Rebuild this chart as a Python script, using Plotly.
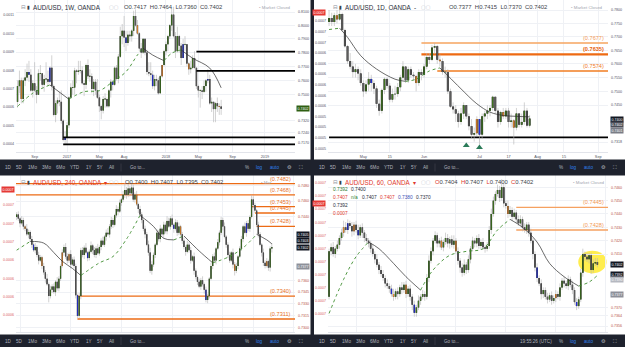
import math
import plotly.graph_objects as go

FONT = "Liberation Sans, Arial, sans-serif"
ICON = "DejaVu Sans, sans-serif"
FIG_W, FIG_H = 625, 347

# ======================= DATA (prices in pips, x 1e-4) =======================
# ---- AUD/USD 1W (top-left)
w_first_open = 7450
w_close = [7560,7600,7470,7600,7620,7660,7640,7530,7580,7530,
           7500,7650,7650,7570,7610,7610,7590,7690,7560,7360,
           7440,7460,7450,7320,7190,7210,7290,7480,7550,7550,
           7670,7660,7670,7670,7580,7570,7710,7630,7630,7540,
           7590,7530,7480,7420,7390,7470,7470,7420,7530,7590,
           7570,7690,7610,7770,7920,7960,7910,7870,7930,7920,
           7960,8070,8000,7940,7830,7800,7900,7800,7660,7650,
           7640,7560,7610,7600,7510,7630,7710,7810,7860,7920,
           8000,8080,7920,7810,7920,7850,7760,7860,7860,7720,
           7680,7690,7760,7690,7560,7530,7530,7520,7560,7600,
           7610,7440,7450,7400,7440,7420,7417,7402]
w_high = [7600,7670,7620,7620,7680,7720,7740,7680,7600,7730,
          7560,7680,7710,7650,7640,7730,7670,7700,7780,7570,
          7460,7480,7520,7530,7330,7250,7310,7490,7580,7600,
          7690,7680,7740,7740,7700,7600,7720,7750,7680,7650,
          7610,7610,7610,7500,7430,7490,7510,7480,7540,7610,
          7600,7700,7710,7790,7990,8010,8070,7960,7960,7960,
          7970,8110,8120,8040,7950,7870,7900,7900,7820,7730,
          7730,7670,7640,7640,7620,7640,7710,7820,7880,7930,
          8010,8130,8140,7950,7990,7930,7870,7900,7920,7840,
          7730,7740,7780,7810,7690,7570,7540,7560,7600,7610,
          7680,7640,7480,7450,7450,7480,7440,7464]
w_low = [7410,7510,7440,7440,7560,7600,7590,7520,7480,7520,
         7440,7500,7600,7540,7520,7580,7560,7580,7530,7350,
         7310,7370,7420,7300,7180,7160,7160,7270,7480,7500,
         7500,7580,7640,7650,7570,7490,7540,7610,7590,7510,
         7490,7500,7470,7380,7330,7370,7410,7410,7410,7480,
         7530,7560,7600,7580,7760,7860,7840,7810,7850,7880,
         7880,7920,7990,7930,7810,7760,7790,7780,7640,7630,
         7600,7540,7530,7560,7500,7510,7620,7700,7780,7810,
         7900,7960,7910,7760,7800,7800,7710,7770,7810,7700,
         7640,7650,7680,7680,7540,7480,7410,7470,7510,7520,
         7580,7430,7380,7310,7310,7380,7360,7360]
w_tick_idx = [9, 26, 43, 56, 78, 95, 113, 130]
w_tick_txt = ["Sep", "2017", "May", "Aug", "2018", "May", "Sep", "2019"]
w_price_ticks = [0.8100, 0.8000, 0.7900, 0.7800, 0.7700, 0.7600, 0.7500, 0.7320, 0.7240, 0.7170]
w_ma_idx = [0, 8, 17, 27, 35, 43, 50, 57, 63, 66, 71, 77, 81, 86, 92, 101, 107]
w_ma_val = [0.7418, 0.7510, 0.7568, 0.7468, 0.7521, 0.7528, 0.7591, 0.7662, 0.7782, 0.7831,
            0.7782, 0.7741, 0.7795, 0.7819, 0.7759, 0.7688, 0.7548]
w_levels = [0.7806, 0.7668, 0.7207, 0.7161]
w_level_from = [94, 94, 24, 24]

# ---- AUD/USD 1D (top-right)
d_first_open = 7755
d_close = [7770,7755,7780,7765,7785,7725,7665,7610,7590,7570,
           7580,7565,7530,7500,7525,7545,7530,7510,7455,7430,
           7505,7545,7520,7470,7490,7490,7515,7550,7590,7540,
           7580,7560,7555,7530,7570,7560,7590,7625,7615,7660,
           7665,7615,7610,7570,7570,7500,7445,7435,7420,7390,
           7420,7450,7410,7375,7345,7350,7400,7345,7410,7420,
           7430,7440,7480,7430,7390,7425,7410,7430,7390,7395,
           7370,7420,7380,7390,7430,7377,7402]
d_high = [7800,7790,7790,7800,7810,7790,7730,7670,7640,7610,
          7600,7590,7580,7540,7540,7570,7560,7540,7520,7470,
          7510,7550,7550,7530,7510,7520,7530,7560,7610,7590,
          7590,7590,7570,7560,7580,7580,7600,7640,7640,7670,
          7677,7670,7635,7620,7590,7580,7510,7460,7450,7430,
          7440,7460,7450,7420,7400,7370,7410,7400,7420,7430,
          7450,7450,7484,7480,7440,7430,7440,7440,7440,7420,
          7400,7440,7420,7420,7460,7440,7415]
d_low = [7740,7740,7740,7750,7760,7720,7660,7600,7580,7550,
         7550,7540,7520,7480,7490,7500,7500,7490,7440,7412,
         7420,7490,7510,7460,7460,7470,7480,7500,7540,7530,
         7530,7550,7540,7500,7520,7540,7550,7580,7600,7610,
         7635,7600,7590,7560,7550,7490,7440,7420,7390,7370,
         7380,7400,7400,7360,7330,7320,7340,7310,7330,7390,
         7400,7410,7430,7420,7370,7380,7400,7400,7370,7370,
         7310,7360,7370,7370,7380,7370,7370]
d_tick_idx = [13, 23, 36, 57, 68, 79, 89, 102]
d_tick_txt = ["May", "15", "Jun", "Jul", "17", "Aug", "15", "Sep"]
d_price_ticks = [0.7800, 0.7750, 0.7700, 0.7650, 0.7600, 0.7550, 0.7500, 0.7450, 0.7318]
d_left_ticks = ["0.0005", "0.0005", "0.0005", "0.0005", "0.0006", "0.0006", "0.0006",
                "0.0006", "0.0006", "0.0006", "0.0007", "0.0007", "0.0007"]
d_ma_idx = [0, 4, 7, 12, 18, 25, 29, 33, 38, 42, 45, 50, 56, 61, 66, 71, 76]
d_ma_val = [0.7727, 0.7732, 0.7698, 0.7630, 0.7581, 0.7544, 0.7536, 0.7544, 0.7574, 0.7585,
            0.7557, 0.7509, 0.7455, 0.7425, 0.7413, 0.7410, 0.7408]
d_levels = [0.7677, 0.7635, 0.7574, 0.7335]
d_level_from = [35, 35, 41, 0]
d_arrow_idx = [52, 57]
d_arrow_val = [0.7306, 0.7299]

# ---- AUD/USD 240 (bottom-left): closes + upper / lower wick lengths
f_first_open = 7440
f_close = [7443,7438,7432,7436,7428,7425,7418,7421,7412,7405,
           7398,7402,7392,7385,7389,7378,
           7370,7362,7355,7340,7348,7352,7345,7358,7350,7362,
           7378,7395,7402,7390,
           7385,7393,7380,7386,7378,
           7341,7315,7340,7398,
           7392,7401,7395,7388,7396,7404,7398,7392,7400,7394,7402,
           7410,7405,7415,7420,7418,7428,
           7436,7430,7442,7450,7447,7458,7462,7468,
           7474,7468,7476,7470,7477,
           7462,7468,7456,7450,7443,
           7436,7425,7418,7405,7395,7372,
           7380,7392,7405,7420,
           7412,7425,7418,7430,7422,7435,
           7428,7438,7430,7425,7433,7420,7428,7418,
           7410,7402,7396,7405,
           7398,7385,7390,7372,7364,7358,7352,
           7360,7355,7348,7335,7340,
           7362,7378,7390,7385,7400,7408,7420,
           7436,7428,7415,7405,
           7392,7385,7395,7380,7372,7378,7390,7400,
           7412,7428,7420,7432,7425,7440,
           7462,7455,7448,
           7430,7418,7405,7395,7382,
           7378,7384,7376,7400,7402]
f_up = [3,4,2,5,3,2,6,3,2,4, 3,5,2,4,3,2, 4,3,6,2,5,3,4,2,6,3, 2,4,3,5, 4,2,5,3,4,
        3,2,4,3, 4,3,6,2,3,5,2,4,3,6,2, 3,5,2,4,6,3, 4,3,2,5,3,4,2,5, 9,4,6,3,6,
        4,3,5,2,4, 3,2,4,3,5,6, 4,3,2,4, 3,5,2,4,3,6, 4,3,5,2,4,3,5,2, 3,4,2,5,
        3,4,2,5,3,2,4, 3,5,2,4,3, 2,4,3,5,2,4,3, 4,3,5,2, 3,4,2,5,3,4,2,3,
        4,2,5,3,4,2, 6,4,3, 2,4,3,2,5, 3,4,2,3,5]
f_dn = [4,3,5,2,4,3,2,5,3,4, 2,4,3,5,2,4, 3,5,2,8,3,4,2,5,3,4, 3,2,4,3, 4,3,5,2,3,
        4,3,3,4, 3,5,2,4,3,2,5,3,4,2,3, 4,2,3,5,2,4, 3,4,2,3,5,2,4,3, 4,5,3,4,3,
        3,4,2,5,3, 4,3,5,2,4,3, 5,3,4,2, 3,4,2,5,3,4, 2,4,3,5,2,4,3,2, 4,3,5,2,
        3,4,2,5,3,4,2, 4,3,5,3,4, 3,2,4,3,5,2,4, 3,5,2,4, 4,3,2,5,6,3,4,2,
        3,4,2,5,3,4, 2,4,3, 3,4,2,5,4, 3,2,4,5,5]
f_tick_idx = [2, 32, 62, 92, 122, 140, 164]
f_tick_txt = ["25", "Jul", "9", "16", "23", "26", "Au"]
f_price_ticks = [0.7480, 0.7460, 0.7440, 0.7360, 0.7345, 0.7330, 0.7315, 0.7300]
f_left_ticks = ["0.0006", "0.0006", "0.0006", "0.0006", "0.0007", "0.0007", "0.0007"]
f_ma_idx = [0, 8, 16, 22, 27, 33, 38, 49, 57, 65, 73, 81, 87, 93, 99, 108, 116, 126, 134, 142, 148, 151]
f_ma_val = [0.7398, 0.7409, 0.7407, 0.7395, 0.7384, 0.7375, 0.7366, 0.7382, 0.7390, 0.7412, 0.7442,
            0.7428, 0.7413, 0.7411, 0.7416, 0.7397, 0.7382, 0.7390, 0.7401, 0.7418, 0.7411, 0.7406]
f_levels = [0.7482, 0.7468, 0.7453, 0.7445, 0.7428, 0.7340, 0.7311]
f_level_from = [-0.4, -0.4, 139, 141, 142, 36, 36]

# ---- AUD/USD 60 (bottom-right)
h_first_open = 7378
h_close = [7412,
           7415,7410,7414,7417, 7422,7426,7430, 7428,7433,7431,7427,
           7432,7428,7424,7430,7426,7422, 7420,7418,
           7414,7410,7406,7402,7398,7395, 7392,7388,7386,
           7384,7380,7378,7382,7380,7385,7383,7387,7380,
           7384,7378,7372, 7366,7370,7375,7378, 7380,7378,7392,7405,
           7412,7420,7424,7418,
           7420,7415,7419,7422,7418,7421,7417,7420,7412,
           7405,7400,7396,7402,7398, 7406,7414,7420,7418,
           7422,7416,7419,7415,7414,7416, 7428,7440,7450,7455,
           7458,7452,7460, 7448,7446,7440,7443, 7438,7441,7436,7433,
           7436,7430,7428,7432, 7426,7420,7410,7400, 7392,7388,7380,7383,
           7378,7376,7379,7375,7377,7380,7378, 7385,7390,7388,
           7386,7391,7387,7383, 7374,7371,7376, 7396,7410,
           7408,7406,7409, 7398,7403,7404,7402]
h_up = [2, 3,4,2,3, 2,3,5, 4,3,2,3, 2,3,4,2,3,2, 3,2, 2,3,2,4,2,3, 3,2,3,
        2,3,4,2,3,2,4,2,3, 2,3,2, 3,2,4,2, 3,2,3,4, 3,2,3,2,
        2,3,2,4,3,2,3,4,2, 3,2,3,4,2, 3,2,3,2, 2,3,2,3,2,3, 3,4,3,2,
        4,3,6, 3,2,4,3, 2,3,2,3, 3,2,3,2, 2,3,2,2, 3,2,3,2,
        2,3,2,3,2,3,2, 3,2,3, 2,3,2,3, 2,3,2, 3,4, 2,3,2, 2,3,3,3]
h_dn = [2, 3,2,3,2, 3,2,3, 2,3,2,4, 3,2,3,2,4,3, 2,3, 3,2,3,2,3,2, 2,3,2,
        3,2,3,2,4,2,3,2,3, 2,3,4, 3,3,2,3, 2,3,2,3, 2,3,2,3,
        3,2,3,2,3,4,2,3,2, 3,4,3,2,3, 2,3,2,3, 3,2,3,2,3,2, 2,3,2,3,
        2,3,2, 3,2,3,2, 3,2,3,2, 2,3,2,3, 3,2,4,3, 3,2,4,3,
        2,3,2,3,2,3,2, 3,2,3, 2,3,2,3, 2,3,2, 2,3, 3,2,3, 3,2,2,2]
h_tick_idx = [13, 37, 61, 85, 109, 133]
h_tick_txt = ["23", "24", "25", "26", "27", "30"]
h_price_ticks = [0.7460, 0.7450, 0.7440, 0.7430, 0.7420, 0.7410, 0.7370, 0.7364, 0.7356]
h_left_ticks = ["0.0007"] * 11
h_ma_idx = [0, 7, 13, 19, 24, 31, 37, 44, 50, 58, 66, 74, 81, 87, 93, 100, 106, 113, 120, 125, 129]
h_ma_val = [0.73655, 0.7391, 0.7408, 0.7419, 0.7414, 0.7403, 0.7393, 0.7383, 0.7398, 0.7409,
            0.7412, 0.7414, 0.7428, 0.7436, 0.7430, 0.7419, 0.7403, 0.7393, 0.7386, 0.7389, 0.7394]
h_levels = [0.7445, 0.7428]
h_level_from = [90, 90]

# ======================= STYLE / LAYOUT =======================
COL = {"up": "#3f7420", "down": "#5c5c5c", "b": "#2230d8", "o": "#e8892b"}
w_special = {2: "o", 6: "b", 17: "b", 25: "b", 50: "b", 57: "b", 63: "o", 71: "b", 76: "o",
             87: "b", 90: "o", 100: "b", 106: "o"}
d_special = {3: "o", 16: "b", 33: "o", 42: "o", 56: "o", 57: "b", 66: "o", 70: "o"}
f_special = {5: "o", 10: "b", 15: "o", 27: "o", 31: "o", 36: "b", 42: "b", 71: "o", 93: "b",
             97: "o", 112: "b", 129: "o", 136: "b", 148: "o"}
h_special = {7: "o", 9: "b", 12: "o", 14: "b", 30: "b", 31: "o", 37: "o", 41: "b", 54: "o",
             61: "o", 86: "o", 100: "b", 109: "o", 119: "b"}


def px(x):
    return x / FIG_W


def py(y):
    return 1 - y / FIG_H


fig = go.Figure()


def ohlc(first_open, closes, highs=None, lows=None, up=None, dn=None):
    c = [v / 1e4 for v in closes]
    o = [first_open / 1e4] + c[:-1]
    n = len(c)
    if highs is not None:
        h = [max(highs[i] / 1e4, o[i], c[i]) for i in range(n)]
        l = [min(lows[i] / 1e4, o[i], c[i]) for i in range(n)]
    else:
        h = [max(o[i], c[i]) + up[i] / 1e4 for i in range(n)]
        l = [min(o[i], c[i]) - dn[i] / 1e4 for i in range(n)]
    return o, h, l, c


def line_trace(x, y, xa, ya, color, width, dash="solid", shape="linear"):
    fig.add_trace(go.Scatter(x=x, y=y, mode="lines", xaxis=xa, yaxis=ya, hoverinfo="skip",
                             showlegend=False,
                             line=dict(color=color, width=width, dash=dash, shape=shape)))


def add_candles(o, h, l, c, xa, ya, bw, minb, special):
    n = len(c)
    wx, wy = [], []
    for i in range(n):
        wx += [i, i, None]
        wy += [l[i], h[i], None]
    line_trace(wx, wy, xa, ya, "#b3b3b3", 0.6)
    groups = {}
    ox, oy = [], []
    for i in range(n):
        lo_, hi_ = min(o[i], c[i]), max(o[i], c[i])
        if hi_ - lo_ < minb:
            m = (hi_ + lo_) / 2
            lo_, hi_ = m - minb / 2, m + minb / 2
        key = special.get(i, "up" if c[i] >= o[i] else "down")
        gx, gy = groups.setdefault(key, ([], []))
        gx += [i, i, None]
        gy += [lo_, hi_, None]
        ox += [i, i, None]
        oy += [lo_, hi_, None]
    line_trace(ox, oy, xa, ya, "#1d1d1d", bw)
    for key, (gx, gy) in groups.items():
        line_trace(gx, gy, xa, ya, COL[key], bw * 0.65)


def add_ma(mx, my, xa, ya):
    runs = []
    start = 0
    cur = my[1] >= my[0]
    for i in range(2, len(mx)):
        d = my[i] >= my[i - 1]
        if d != cur:
            runs.append((cur, start, i - 1))
            start = i - 1
            cur = d
    runs.append((cur, start, len(mx) - 1))
    for up, a, b in runs:
        if up:
            line_trace(mx[a:b + 1], my[a:b + 1], xa, ya, "#3c8c2c", 0.9, "dot", "spline")
        else:
            line_trace(mx[a:b + 1], my[a:b + 1], xa, ya, "#2b2b2b", 0.7, "solid", "spline")


def yc(p, log):
    return math.log10(p) if log else p


annotations = []
shapes = []


def text(t, x, y, size, color, anchor="left", family=FONT, bold=False):
    if bold:
        t = "<b>" + t + "</b>"
    annotations.append(dict(text=t, x=px(x), y=py(y), xref="paper", yref="paper",
                            xanchor=anchor, yanchor="middle", showarrow=False,
                            font=dict(size=size, color=color, family=family)))


def tag(t, xpix, val, yref, log, bg, fg="#ffffff", shift=0, anchor="left"):
    annotations.append(dict(text=t, x=px(xpix), y=yc(val, log), xref="paper", yref=yref,
                            xanchor=anchor, yanchor="middle", showarrow=False, yshift=shift,
                            bgcolor=bg, borderpad=0.5,
                            font=dict(size=3.6, color=fg, family=FONT)))


def ptag(t, xpix, ypix, bg, fg="#ffffff", anchor="left"):
    annotations.append(dict(text=t, x=px(xpix), y=py(ypix), xref="paper", yref="paper",
                            xanchor=anchor, yanchor="middle", showarrow=False,
                            bgcolor=bg, borderpad=0.5,
                            font=dict(size=3.6, color=fg, family=FONT)))


# panel geometry (pixels)
P = {
    "TL": dict(xa="x", ya="y", yl="y5", xd=(16, 295), yd=(0, 152), log=True,
               xr=(-0.8, 145.8), yr=(-0.14812, -0.08666)),
    "TR": dict(xa="x2", ya="y2", yl="y6", xd=(328, 608), yd=(0, 152), log=True,
               xr=(-0.4, 105.7), yr=(-0.13766, -0.10580)),
    "BL": dict(xa="x3", ya="y3", yl="y7", xd=(16, 295), yd=(175, 332), log=False,
               xr=(-0.37, 164.7), yr=(0.72946, 0.74930)),
    "BR": dict(xa="x4", ya="y4", yl="y8", xd=(328, 608), yd=(175, 332), log=False,
               xr=(-0.5, 134.1), yr=(0.73516, 0.74692)),
}

# yellow highlight circle (BR)
shapes.append(dict(type="circle", xref="x4", yref="y4", x0=119.8, x1=133.4, y0=0.73955, y1=0.74125,
                   fillcolor="rgba(255,235,59,0.9)", line=dict(width=0), layer="below"))

# ---------- candles, MAs, levels
o, h, l, c = ohlc(w_first_open, w_close, w_high, w_low)
add_candles(o, h, l, c, "x", "y", 1.5, 0.0006, w_special)
add_ma(w_ma_idx, w_ma_val, "x", "y")
for lv, x0 in zip(w_levels, w_level_from):
    line_trace([x0, P["TL"]["xr"][1]], [lv, lv], "x", "y", "#000000", 1.8)

o, h, l, c = ohlc(d_first_open, d_close, d_high, d_low)
d_level_col = ["#f6a45f", "#ee6a12", "#f07d22", "#000000"]
d_level_w = [1.5, 2.2, 1.5, 1.8]
for lv, x0, col, wd in zip(d_levels, d_level_from, d_level_col, d_level_w):
    line_trace([x0, P["TR"]["xr"][1]], [lv, lv], "x2", "y2", col, wd)
add_candles(o, h, l, c, "x2", "y2", 2.0, 0.0002, d_special)
add_ma(d_ma_idx, d_ma_val, "x2", "y2")
fig.add_trace(go.Scatter(x=d_arrow_idx, y=d_arrow_val, mode="markers", xaxis="x2", yaxis="y2",
                         marker=dict(symbol="triangle-up", size=6, color="#2a7a58"),
                         hoverinfo="skip", showlegend=False))

for lv, x0 in zip(f_levels, f_level_from):
    line_trace([x0, P["BL"]["xr"][1]], [lv, lv], "x3", "y3", "#ec6b15", 1.3)
o, h, l, c = ohlc(f_first_open, f_close, up=f_up, dn=f_dn)
add_candles(o, h, l, c, "x3", "y3", 1.3, 0.00008, f_special)
add_ma(f_ma_idx, f_ma_val, "x3", "y3")

for lv, x0 in zip(h_levels, h_level_from):
    line_trace([x0, P["BR"]["xr"][1]], [lv, lv], "x4", "y4", "#f5a160", 1.3)
o, h, l, c = ohlc(h_first_open, h_close, up=h_up, dn=h_dn)
add_candles(o, h, l, c, "x4", "y4", 1.6, 0.00005, h_special)
add_ma(h_ma_idx, h_ma_val, "x4", "y4")

# invisible traces for the left (indicator) scales
for k, p in P.items():
    fig.add_trace(go.Scatter(x=[p["xr"][0]], y=[1], xaxis=p["xa"], yaxis=p["yl"], mode="markers",
                             marker=dict(opacity=0), hoverinfo="skip", showlegend=False))

# ---------- axes
GRID = "#eff1f5"
TOPTXT = "#50535e"
BOTTXT = "#b5533c"


def xaxis_cfg(p, tv, tt, col, anchor):
    return dict(domain=[px(p["xd"][0]), px(p["xd"][1])], range=list(p["xr"]), anchor=anchor,
                tickmode="array", tickvals=tv, ticktext=tt, showgrid=True, gridcolor=GRID,
                gridwidth=0.6, zeroline=False, showline=True, linecolor="#e2e4ea", linewidth=0.6,
                mirror=True, ticks="", ticklabelstandoff=1,
                tickfont=dict(size=3.8, color=col, family=FONT))


def yaxis_cfg(p, tv, col, anchor):
    return dict(domain=[py(p["yd"][1]), py(p["yd"][0])], type="log" if p["log"] else "linear",
                range=list(p["yr"]), anchor=anchor, side="right", tickmode="array",
                tickvals=tv, ticktext=["%.4f" % v for v in tv], showgrid=True, gridcolor=GRID,
                gridwidth=0.6, zeroline=False, ticks="", ticklabelstandoff=2,
                tickfont=dict(size=3.6, color=col, family=FONT))


def left_cfg(over, anchor, rng, tv, tt, col):
    return dict(overlaying=over, anchor=anchor, side="left", range=rng, tickmode="array",
                tickvals=tv, ticktext=tt, showgrid=False, zeroline=False, ticks="",
                ticklabelstandoff=1, tickfont=dict(size=3.6, color=col, family=FONT))


tl_left_vals = [0.0004, 0.0005, 0.0006, 0.0007, 0.0008, 0.0009, 0.0010, 0.0011]
layout_axes = dict(
    xaxis=xaxis_cfg(P["TL"], w_tick_idx, w_tick_txt, TOPTXT, "y"),
    xaxis2=xaxis_cfg(P["TR"], d_tick_idx, d_tick_txt, TOPTXT, "y2"),
    xaxis3=xaxis_cfg(P["BL"], f_tick_idx, f_tick_txt, BOTTXT, "y3"),
    xaxis4=xaxis_cfg(P["BR"], h_tick_idx, h_tick_txt, BOTTXT, "y4"),
    yaxis=yaxis_cfg(P["TL"], w_price_ticks, TOPTXT, "x"),
    yaxis2=yaxis_cfg(P["TR"], d_price_ticks, TOPTXT, "x2"),
    yaxis3=yaxis_cfg(P["BL"], f_price_ticks, BOTTXT, "x3"),
    yaxis4=yaxis_cfg(P["BR"], h_price_ticks, BOTTXT, "x4"),
    yaxis5=left_cfg("y", "x", [0.0003565, 0.0011815], tl_left_vals,
                    ["%.4f" % v for v in tl_left_vals], TOPTXT),
    yaxis6=left_cfg("y2", "x2", [0, 14.34], [0.35 + k for k in range(13)], d_left_ticks, TOPTXT),
    yaxis7=left_cfg("y3", "x3", [0, 8.58], [0.93 + k for k in range(7)], f_left_ticks, "#d9605a"),
    yaxis8=left_cfg("y4", "x4", [0, 11.98], [1.37 + k for k in range(11)], h_left_ticks, "#d9605a"),
)

# ---------- level labels
d_lab_col = ["#f39a55", "#e85f0c", "#ef7a1f"]
for i, lv in enumerate(d_levels[:3]):
    t = "(%.4f)" % lv
    if i == 1:
        t = "<b>" + t + "</b>"
    annotations.append(dict(text=t, x=P["TR"]["xr"][1], y=math.log10(lv), xref="x2", yref="y2",
                            xanchor="right", yanchor="bottom", showarrow=False, xshift=-2, yshift=0,
                            font=dict(size=5.6, color=d_lab_col[i], family=FONT)))
for lv in f_levels:
    annotations.append(dict(text="(%.4f)" % lv, x=P["BL"]["xr"][1], y=lv, xref="x3", yref="y3",
                            xanchor="right", yanchor="bottom", showarrow=False, xshift=-2,
                            font=dict(size=5.6, color="#e8742a", family=FONT)))
for lv in h_levels:
    annotations.append(dict(text="(%.4f)" % lv, x=P["BR"]["xr"][1], y=lv, xref="x4", yref="y4",
                            xanchor="right", yanchor="bottom", showarrow=False, xshift=-2,
                            font=dict(size=5.6, color="#f29a55", family=FONT)))

# ---------- price tags
tag("0.7402", 296, 0.7402, "y", True, "#2f5f12")
tag("0.7400", 610, 0.7400, "y2", True, "#131722")
tag("0.7402", 610, 0.7400, "y2", True, "#4a4d57", shift=-5.5)
tag("0.7401", 610, 0.7400, "y2", True, "#7a7d86", shift=-11)
ptag("0.0007", 312, 12, "#e53935")
tag("0.7405", 296, 0.7402, "y3", False, "#131722", shift=13)
tag("0.7403", 296, 0.7402, "y3", False, "#131722", shift=6.5)
tag("0.7402", 296, 0.7402, "y3", False, "#131722")
tag("0.7377", 296, 0.7377, "y3", False, "#8d9099")
ptag("0.0007", 1, 189, "#e53935")
tag("0.7402", 610, 0.7402, "y4", False, "#131722")
tag("0.7392", 610, 0.7392, "y4", False, "#131722", shift=4)
tag("0.7390", 610, 0.7390, "y4", False, "#b5b8c0", shift=1)
tag("0.7377", 610, 0.7377, "y4", False, "#8d9099", shift=4)
ptag("0.0007", 312, 203, "#e53935")

# ---------- headers
DARK = "#2a2e39"
RED = "#e0392d"
GREYT = "#a3a6af"
for (x0, y0, title, col, ohlc_txt, ox) in [
        (21, 7, "AUD/USD, 1W, OANDA", DARK, "O0.7417  H0.7464  L0.7360  C0.7402", 122),
        (333, 7, "AUD/USD, 1D, OANDA  -", DARK, "O0.7377  H0.7415  L0.7370  C0.7402", 447),
        (21, 182, "AUD/USD, 240, OANDA  ▾", RED, "O0.7400  H0.7407  L0.7395  C0.7402", 123),
        (333, 182, "AUD/USD, 60, OANDA  ▾", RED,
         "<span style='color:#e0392d'>O</span>0.7404  <span style='color:#e0392d'>H</span>0.7407  "
         "<span style='color:#e0392d'>L</span>0.7400  <span style='color:#e0392d'>C</span>0.7402", 433)]:
    text("⊟", x0 - 2, y0, 5.5, "#8a8e99", family=ICON)
    text("▮", x0 + 4, y0, 5, "#3a3e4a", family=ICON)
    text(title, x0 + 10, y0, 6.3, col)
    text("▢▢", x0 + 86, y0, 5, "#c5c8d0", family=ICON)
    text(ohlc_txt, ox, y0, 5.9, "#3c3f4a")
text("• Market Closed", 293, 7, 4.4, GREYT, anchor="right")
text("• Market Closed", 605, 7, 4.4, GREYT, anchor="right")
text("• Mar", 259, 182, 4.4, GREYT)
text("• Market Closed", 607, 182, 4.4, GREYT, anchor="right")
# BR indicator legend rows
rows = [
    (189.5, [("0.7392", 331, "#2e7d32"), ("0.7400", 349, DARK)]),
    (197, [("0.7407", 331, "#e0392d"), ("n/a", 349, "#2e7d32"), ("0.7407", 360, DARK),
           ("0.7407", 378, "#e0392d"), ("0.7380", 396, "#3f51b5"), ("0.7370", 414, DARK)]),
    (205, [("0.7392", 331, DARK)]),
    (213, [("0.0007", 331, "#e0392d")]),
]
for yy, items in rows:
    for t, xx, cc in items:
        text(t, xx, yy, 4.8, cc)

# ---------- toolbars
BAR = "#1e222d"
shapes.append(dict(type="rect", xref="paper", yref="paper", x0=0, x1=1, y0=py(175.5), y1=py(159.5),
                   fillcolor=BAR, line=dict(width=0), layer="above"))
shapes.append(dict(type="rect", xref="paper", yref="paper", x0=0, x1=1, y0=0, y1=py(334.5),
                   fillcolor=BAR, line=dict(width=0), layer="above"))
shapes.append(dict(type="rect", xref="paper", yref="paper", x0=px(310.5), x1=px(314), y0=0, y1=1,
                   fillcolor=BAR, line=dict(width=0), layer="above"))
TB = "#b2b5be"
BLUE = "#2f80ed"
for off, yy in [(0, 167.5), (314, 167.5), (0, 341), (314, 341)]:
    for t, xx in [("1D", 8), ("5D", 19), ("1Mo", 32), ("3Mo", 46), ("6Mo", 60), ("YTD", 75),
                  ("1Y", 89), ("5Y", 100), ("All", 111)]:
        text(t, off + xx, yy, 4.6, TB, anchor="center")
    shapes.append(dict(type="line", xref="paper", yref="paper", x0=px(off + 121), x1=px(off + 121),
                       y0=py(yy + 4), y1=py(yy - 4), line=dict(color="#434651", width=0.6),
                       layer="above"))
    text("Go to...", off + 128, yy, 4.6, TB)
    text("%", off + 247, yy, 4.6, TB, anchor="center")
    text("log", off + 259, yy, 4.6, BLUE, anchor="center")
    text("auto", off + 274, yy, 4.6, BLUE, anchor="center")
    text("⚙", off + 289, yy, 5.2, TB, anchor="center", family=ICON)
    text("⛶", off + 301, yy, 5.2, TB, anchor="center", family=ICON)
text("19:55:26 (UTC)", 536, 341, 4.6, TB, anchor="center")

fig.update_layout(width=FIG_W, height=FIG_H, margin=dict(l=0, r=0, t=0, b=0),
                  paper_bgcolor="#ffffff", plot_bgcolor="#ffffff", showlegend=False,
                  hovermode=False, annotations=annotations, shapes=shapes,
                  font=dict(family=FONT), **layout_axes)

fig.write_html("out.html", config={"displayModeBar": False})
